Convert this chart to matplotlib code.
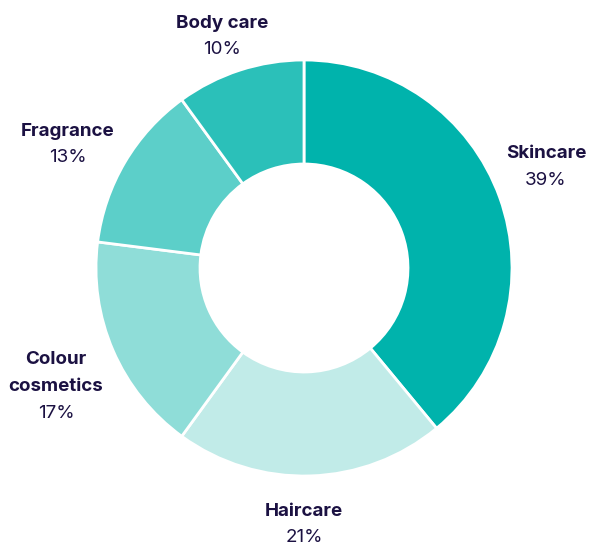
import matplotlib.pyplot as plt

plt.rcParams['font.family'] = ['Inter', 'DejaVu Sans']

# Anteile je Kategorie (im Uhrzeigersinn ab 12 Uhr)
categories = ['Skincare', 'Haircare', 'Colour\ncosmetics', 'Fragrance', 'Body care']
shares = [39, 21, 17, 13, 10]
colors = ['#00b3ac', '#c1ebe8', '#8fddd8', '#5ccfc9', '#2bc0b9']

# Label-Positionen in Pixeln (x, erste Zeile y von oben) -- nur Layout
label_pos = [(546, 154), (304, 511), (56, 360), (68, 131), (222, 23)]
line_step = 26.5

W, H = 590, 547
fig = plt.figure(figsize=(W / 100, H / 100), dpi=100)
ax = fig.add_axes([0, 0, 1, 1])

ax.pie(shares, colors=colors, startangle=90, counterclock=False,
       center=(304, H - 268), radius=208,
       wedgeprops=dict(width=104, edgecolor='white', linewidth=2))
ax.set_xlim(0, W)
ax.set_ylim(0, H)
ax.set_aspect('equal')
ax.axis('off')

text_color = '#1b1142'
for name, val, (x, y) in zip(categories, shares, label_pos):
    # Kategorie fett (ggf. mehrzeilig), Prozent normal darunter
    lines = name.split('\n')
    for i, line in enumerate(lines):
        ax.text(x, H - (y + i * line_step), line, ha='center', va='center',
                fontsize=13.5, fontweight='bold', color=text_color)
    ax.text(x, H - (y + len(lines) * line_step), f'{val}%', ha='center',
            va='center', fontsize=13.5, color=text_color)

plt.savefig('out.png', dpi=100)
